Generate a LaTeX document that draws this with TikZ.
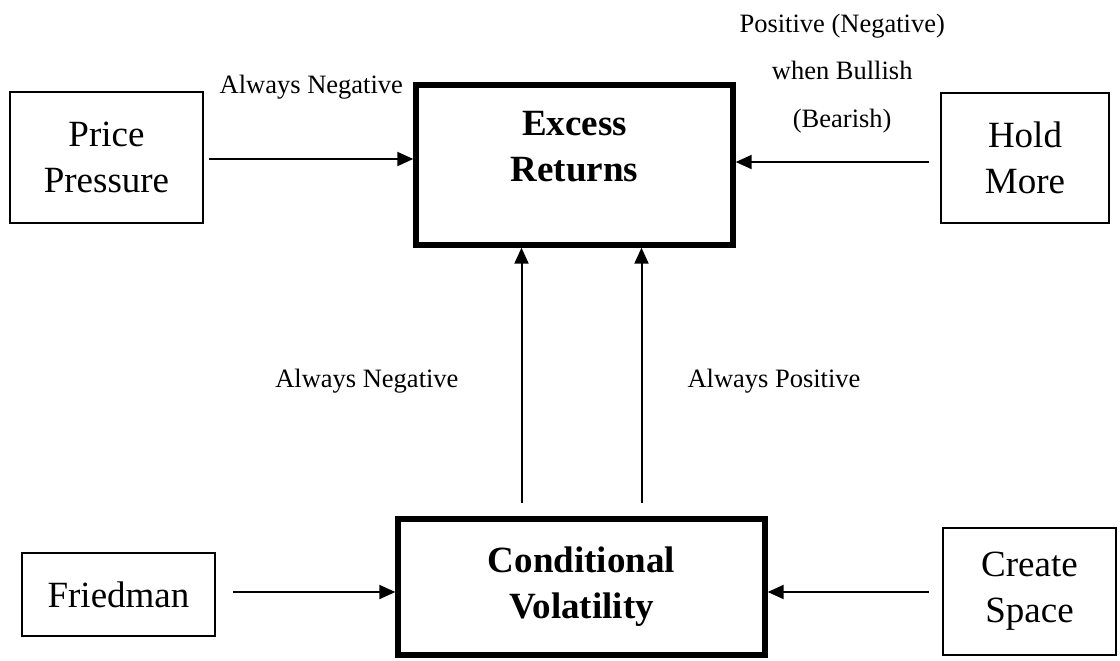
\documentclass[tikz,border=0pt]{standalone}
\usepackage{fontspec}
\setmainfont{Liberation Serif}
\usetikzlibrary{arrows.meta,positioning,calc}

\tikzset{
  box/.style={draw, line width=1.3pt, inner sep=0pt, align=center,
    font=\fontsize{18.5}{23}\selectfont},
  mainbox/.style={box, line width=2.7pt, font=\fontsize{18.5}{23}\selectfont\bfseries},
  arr/.style={-{Triangle[length=8pt,width=7pt]}, line width=1pt},
  lbl/.style={inner sep=0pt, align=center, font=\fontsize{13.25}{23.75}\selectfont}
}

\begin{document}
\begin{tikzpicture}[x=0.5pt,y=-0.5pt]
  \useasboundingbox (0,0) rectangle (1120,660);
  % boxes
  \node[box, minimum width=96.5pt, minimum height=65.5pt] (pressure) at (106.5,157.5) {Price\\Pressure};
  \node[mainbox, minimum width=158.5pt, minimum height=80pt] (excess) at (574.5,165) {};
  \node[font=\fontsize{18.5}{23}\selectfont\bfseries, align=center, inner sep=0pt] (excesstxt) at ([yshift=9.25pt]excess.center) {Excess\\Returns};
  \node[box, minimum width=84pt, minimum height=65pt] (hold) at (1025,158) {Hold\\More};
  \node[box, minimum width=96.5pt, minimum height=41.5pt] (friedman) at (118.5,594.5) {Friedman};
  \node[mainbox, minimum width=183.5pt, minimum height=68pt] (vol) at (581.5,587) {Conditional\\Volatility};
  \node[box, minimum width=86.5pt, minimum height=63.5pt] (space) at (1029.5,591.5) {Create\\Space};

  % arrows into the two main boxes
  \draw[arr] ($(pressure.east)+(5,1.5)$) -- ($(pressure.east -| excess.west)+(0,1.5)$)
    node[lbl, midway, above=29.5pt] (neg1) {Always Negative};
  \draw[arr] ($(hold.west)+(-11,4)$) -- ($(hold.west -| excess.east)+(0,4)$)
    node[lbl, midway, above=14pt, xshift=5pt] (bull) {Positive (Negative)\\when Bullish\\(Bearish)};
  \draw[arr] ($(friedman.east)+(17,-2.5)$) -- ($(friedman.east -| vol.west)+(0,-2.5)$);
  \draw[arr] ($(space.west)+(-13,0.5)$) -- ($(space.west -| vol.east)+(0,0.5)$);

  % volatility to returns
  \draw[arr] ($(vol.north)+(-60,-13.5)$) -- ($(excess.south -| vol.north)+(-60,0)$)
    node[lbl, midway, left=31pt, yshift=-3pt] (neg2) {Always Negative};
  \draw[arr] ($(vol.north)+(60,-13.5)$) -- ($(excess.south -| vol.north)+(60,0)$)
    node[lbl, midway, right=22.5pt, yshift=-3pt] (pos) {Always Positive};
\end{tikzpicture}
\end{document}
